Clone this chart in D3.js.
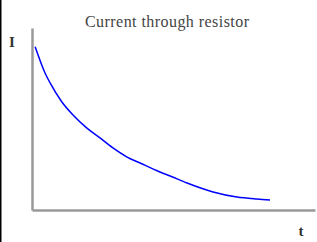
<!DOCTYPE html>
<html>
  <head>
    <title>Current through resistor</title>
    <script src="https://d3js.org/d3.v7.min.js"></script>
    <style>
      body { margin: 0; background: #fff; }
    </style>
  </head>
  <body>
    <svg width="317" height="242"></svg>
    <script>
      // values (t and I on 0-100 scales)
      const tValues = [1.1, 4.6, 6.4, 10.5, 14.5, 19.3, 24.0, 28.6, 33.6, 38.2, 45.2, 48.8, 54.8, 64.0, 72.4, 79.5, 84.1];
      const iValues = [89.7, 75.3, 69.8, 59.5, 52.2, 45.1, 39.6, 34.1, 29.1, 25.8, 20.9, 18.7, 14.8, 9.9, 7.1, 6.0, 5.5];
      const title = "Current through resistor";
      const xLabel = "t";
      const yLabel = "I";

      const data = tValues.map((t, i) => ({t: t, I: iValues[i]}));

      const svg = d3.select("svg");
      const width = +svg.attr("width");
      const height = +svg.attr("height");
      const margin = {top: 28, right: 2, bottom: 32, left: 32};

      const xScale = d3.scaleLinear().domain([0, 100]).range([margin.left, width - margin.right]);
      const yScale = d3.scaleLinear().domain([0, 100]).range([height - margin.bottom, margin.top]);

      // left border
      svg.append("line")
        .attr("x1", 0.75).attr("x2", 0.75)
        .attr("y1", 0).attr("y2", height)
        .attr("stroke", "#000")
        .attr("stroke-width", 1.5);

      // axes, no ticks
      const xAxis = d3.axisBottom(xScale).tickValues([]).tickSizeOuter(0);
      const yAxis = d3.axisLeft(yScale).tickValues([]).tickSizeOuter(0);

      svg.append("g")
        .attr("transform", `translate(0, ${yScale(0)})`)
        .call(xAxis)
        .select(".domain")
          .attr("stroke", "#999")
          .attr("stroke-width", 2.5);

      svg.append("g")
        .attr("transform", `translate(${xScale(0)}, 0)`)
        .call(yAxis)
        .select(".domain")
          .attr("stroke", "#999")
          .attr("stroke-width", 2.5);

      const line = d3.line()
        .x(d => xScale(d.t))
        .y(d => yScale(d.I))
        .curve(d3.curveMonotoneX);

      svg.append("path")
        .datum(data)
        .attr("fill", "none")
        .attr("stroke", "#0000ff")
        .attr("stroke-width", 1.5)
        .attr("d", line);

      svg.append("text")
        .attr("x", 167)
        .attr("y", 27)
        .attr("text-anchor", "middle")
        .attr("font-family", "Liberation Serif, serif")
        .attr("font-size", 16)
        .attr("textLength", 164)
        .attr("fill", "#444")
        .text(title);

      svg.append("text")
        .attr("x", 12)
        .attr("y", 47)
        .attr("text-anchor", "middle")
        .attr("font-family", "Liberation Serif, serif")
        .attr("font-weight", "bold")
        .attr("font-size", 15)
        .attr("fill", "#333")
        .text(yLabel);

      svg.append("text")
        .attr("x", 301)
        .attr("y", 236)
        .attr("text-anchor", "middle")
        .attr("font-family", "Liberation Serif, serif")
        .attr("font-weight", "bold")
        .attr("font-size", 15)
        .attr("fill", "#333")
        .text(xLabel);
    </script>
  </body>
</html>
